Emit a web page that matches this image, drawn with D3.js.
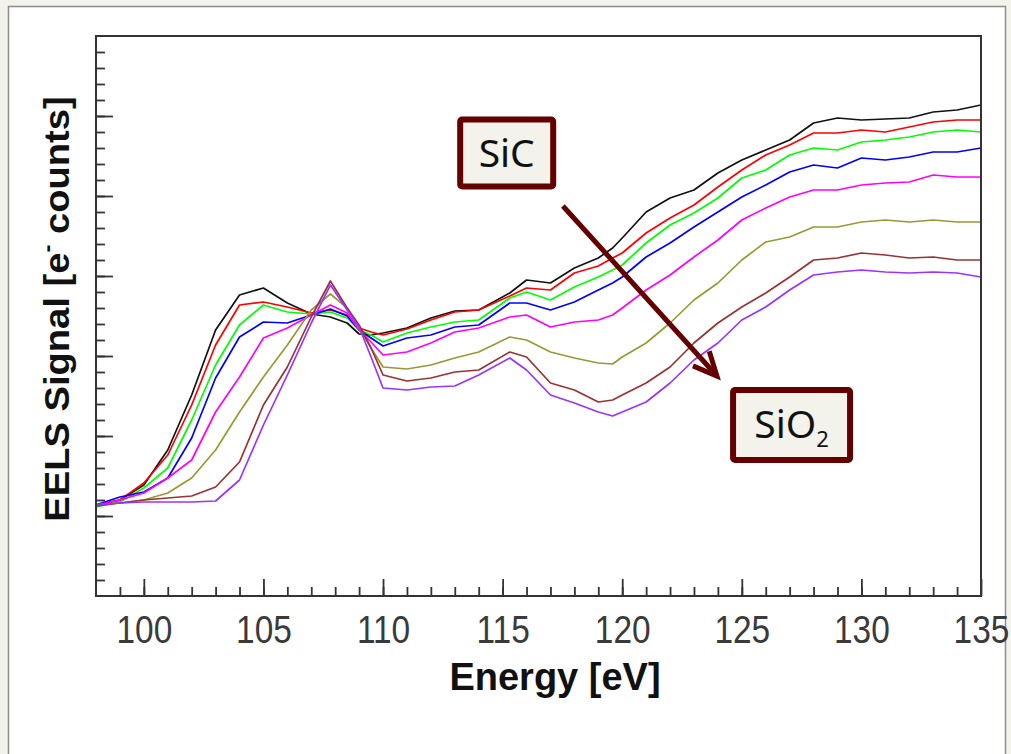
<!DOCTYPE html>
<html>
<head>
<meta charset="utf-8">
<script src="https://cdn.jsdelivr.net/npm/d3@7"></script>
<style>
  html, body { margin: 0; padding: 0; background: #f3f2eb; }
  svg { display: block; }
</style>
</head>
<body>
<div id="chart"></div>
<script>
// energy loss axis [eV]
var energy = [98, 99, 100, 101, 102, 103, 104, 105, 106, 107, 107.8, 108.5, 109, 109.5, 110,
  111, 112, 113, 114, 115.3, 116, 117, 118, 119, 119.6, 120, 121, 122, 123, 124, 125,
  126, 127, 128, 129, 130, 131, 132, 133, 134, 135];

// spectra, going from SiC (spec1) to SiO2 (spec8) - arbitrary counts
var spec1 = [910, 960, 1110, 1460, 2010, 2660, 3010, 3080, 2930, 2820, 2790, 2730, 2620, 2610, 2630,
  2680, 2780, 2850, 2860, 3030, 3160, 3130, 3280, 3380, 3480, 3580, 3840, 3980, 4060, 4230, 4360,
  4460, 4560, 4730, 4780, 4760, 4770, 4780, 4840, 4860, 4910];
var spec2 = [900, 960, 1130, 1410, 1910, 2510, 2910, 2940, 2890, 2830, 2860, 2810, 2680, 2640, 2610,
  2670, 2760, 2840, 2860, 3000, 3080, 3060, 3230, 3300, 3380, 3430, 3630, 3780, 3910, 4090, 4260,
  4410, 4510, 4630, 4630, 4660, 4640, 4690, 4740, 4760, 4760];
var spec3 = [890, 940, 1080, 1280, 1760, 2310, 2710, 2910, 2840, 2820, 2840, 2780, 2660, 2610, 2540,
  2630, 2690, 2740, 2760, 2980, 3040, 2960, 3090, 3190, 3260, 3310, 3530, 3710, 3830, 3980, 4180,
  4260, 4410, 4480, 4460, 4540, 4560, 4590, 4640, 4660, 4640];
var spec4 = [910, 990, 1040, 1180, 1580, 2180, 2590, 2740, 2730, 2810, 2870, 2800, 2660, 2580, 2500,
  2580, 2610, 2690, 2710, 2930, 2930, 2860, 2940, 3060, 3130, 3190, 3390, 3530, 3690, 3840, 3990,
  4110, 4240, 4310, 4280, 4380, 4360, 4390, 4440, 4440, 4480];
var spec5 = [910, 960, 1030, 1180, 1360, 1840, 2190, 2580, 2680, 2810, 2910, 2830, 2660, 2540, 2410,
  2440, 2530, 2640, 2680, 2790, 2810, 2690, 2740, 2760, 2810, 2880, 3060, 3210, 3390, 3560, 3760,
  3880, 3990, 4060, 4060, 4110, 4130, 4140, 4210, 4190, 4190];
var spec6 = [910, 930, 960, 1030, 1180, 1460, 1840, 2190, 2510, 2860, 3020, 2880, 2680, 2480, 2290,
  2270, 2310, 2380, 2440, 2590, 2560, 2440, 2380, 2330, 2320, 2390, 2530, 2730, 2960, 3130, 3360,
  3540, 3590, 3690, 3690, 3740, 3760, 3740, 3760, 3740, 3740];
var spec7 = [900, 930, 960, 980, 1000, 1090, 1340, 1910, 2290, 2790, 3150, 2880, 2710, 2480, 2210,
  2150, 2180, 2240, 2260, 2440, 2390, 2130, 2060, 1940, 1960, 2010, 2130, 2290, 2530, 2730, 2890,
  3030, 3190, 3360, 3380, 3430, 3410, 3380, 3390, 3360, 3360];
var spec8 = [910, 930, 940, 940, 940, 950, 1160, 1710, 2210, 2730, 3110, 2860, 2690, 2390, 2080,
  2060, 2090, 2100, 2210, 2380, 2260, 2010, 1930, 1840, 1800, 1840, 1940, 2130, 2360, 2530, 2760,
  2890, 3060, 3210, 3240, 3260, 3240, 3230, 3240, 3230, 3190];

var spectra = [spec1, spec2, spec3, spec4, spec5, spec6, spec7, spec8];
var specColors = ['#111111', '#ff0000', '#00ff00', '#0000ff', '#ff00ff', '#999933', '#993333', '#9933ff'];

var xTickLabels = [100, 105, 110, 115, 120, 125, 130, 135];
var xLabel = 'Energy [eV]';
var startLabel = 'SiC';
var endLabel = 'SiO';

var W = 1011, H = 754,
    plotL = 96, plotR = 981, plotT = 36, plotB = 596;

var svg = d3.select('#chart').append('svg')
  .attr('width', W)
  .attr('height', H);

// page frame
svg.append('rect').attr('width', W).attr('height', H).attr('fill', '#f3f2eb');
svg.append('rect')
  .attr('x', 8.5).attr('y', 6.5)
  .attr('width', 997).attr('height', 770)
  .attr('fill', '#ffffff')
  .attr('stroke', '#8c8c8c')
  .attr('stroke-width', 1.5);

var x = d3.scaleLinear().domain([98, 135]).range([plotL, plotR]);
var y = d3.scaleLinear().domain([0, 5600]).range([plotB, plotT]);

svg.append('clipPath').attr('id', 'plotClip')
  .append('rect')
  .attr('x', plotL).attr('y', plotT)
  .attr('width', plotR - plotL).attr('height', plotB - plotT);

// curves
var line = d3.line()
  .x(function(d, i) { return x(energy[i]); })
  .y(function(d) { return y(d); });

svg.append('g')
  .attr('clip-path', 'url(#plotClip)')
  .selectAll('path')
  .data(spectra)
  .enter()
  .append('path')
  .attr('d', line)
  .attr('fill', 'none')
  .attr('stroke', function(d, i) { return specColors[i]; })
  .attr('stroke-width', 1.7)
  .attr('stroke-linejoin', 'round');

// axes - ticks point inward, y has no labels
var tickColor = '#333333';

function styleAxis(g) {
  g.select('.domain').remove();
  g.selectAll('.tick line').attr('stroke-width', 1.8);
  g.attr('color', tickColor);
}

svg.append('g')
  .attr('transform', 'translate(' + plotL + ',0)')
  .call(d3.axisLeft(y).tickValues(d3.range(160, 5600, 160)).tickSize(-9).tickFormat(''))
  .call(styleAxis);
svg.append('g')
  .attr('transform', 'translate(' + plotL + ',0)')
  .call(d3.axisLeft(y).tickValues(d3.range(800, 5600, 800)).tickSize(-17).tickFormat(''))
  .call(styleAxis);

svg.append('g')
  .attr('transform', 'translate(0,' + plotB + ')')
  .call(d3.axisBottom(x).tickValues(d3.range(99, 135)).tickSize(-9).tickFormat(''))
  .call(styleAxis);
var xAxis = svg.append('g')
  .attr('transform', 'translate(0,' + plotB + ')')
  .call(d3.axisBottom(x).tickValues(xTickLabels).tickSize(-17).tickPadding(20).tickFormat(d3.format('d')))
  .call(styleAxis);
xAxis.selectAll('.tick text')
  .attr('font-family', '"Liberation Sans", Arial, sans-serif')
  .attr('font-size', 38)
  .attr('transform', 'scale(0.88,1)')
  .attr('fill', '#3a3a3a');

// plot frame
svg.append('rect')
  .attr('x', plotL).attr('y', plotT)
  .attr('width', plotR - plotL).attr('height', plotB - plotT)
  .attr('fill', 'none')
  .attr('stroke', tickColor)
  .attr('stroke-width', 2);

// axis titles
svg.append('text')
  .attr('x', 555).attr('y', 690)
  .attr('text-anchor', 'middle')
  .attr('font-family', '"Liberation Sans", Arial, sans-serif')
  .attr('font-weight', 'bold')
  .attr('font-size', 38)
  .attr('fill', '#111')
  .text(xLabel);

var yTitle = svg.append('text')
  .attr('transform', 'translate(69,309) rotate(-90) scale(1.09,1)')
  .attr('text-anchor', 'middle')
  .attr('font-family', '"Liberation Sans", Arial, sans-serif')
  .attr('font-weight', 'bold')
  .attr('font-size', 35)
  .attr('fill', '#111');
yTitle.append('tspan').text('EELS Signal [e');
yTitle.append('tspan').attr('font-size', 22).attr('dy', -15).text('-');
yTitle.append('tspan').attr('dy', 15).text(' counts]');

// annotation: SiC -> SiO2 arrow
var annoColor = '#650000';

function labelBox(cx, cy, w, h) {
  return svg.append('rect')
    .attr('x', cx - w / 2).attr('y', cy - h / 2)
    .attr('width', w).attr('height', h)
    .attr('rx', 2)
    .attr('fill', '#f3f2eb')
    .attr('stroke', annoColor)
    .attr('stroke-width', 6);
}

var sicPos = [x(115.17), y(4430)],
    sio2Pos = [x(127.08), y(1710)];

labelBox(sicPos[0], sicPos[1], 93, 67);
svg.append('text')
  .attr('x', sicPos[0]).attr('y', sicPos[1] + 14)
  .attr('text-anchor', 'middle')
  .attr('font-family', '"Noto Sans", "Open Sans", sans-serif')
  .attr('font-size', 39)
  .attr('fill', '#111')
  .text(startLabel);

labelBox(sio2Pos[0], sio2Pos[1], 117, 70);
var sio2Text = svg.append('text')
  .attr('x', sio2Pos[0]).attr('y', sio2Pos[1] + 13)
  .attr('text-anchor', 'middle')
  .attr('font-family', '"Noto Sans", "Open Sans", sans-serif')
  .attr('font-size', 39)
  .attr('fill', '#111');
sio2Text.append('tspan').text(endLabel);
sio2Text.append('tspan').attr('font-size', 22).attr('dy', 9).text('2');

var a0 = [x(117.52), y(3900)],
    a1 = [x(123.96), y(2200)],
    ang = Math.atan2(a1[1] - a0[1], a1[0] - a0[0]),
    headLen = 26, headAng = 25 * Math.PI / 180;

svg.append('line')
  .attr('x1', a0[0]).attr('y1', a0[1])
  .attr('x2', a1[0] - 3 * Math.cos(ang)).attr('y2', a1[1] - 3 * Math.sin(ang))
  .attr('stroke', annoColor)
  .attr('stroke-width', 5);

var head = [
  [a1[0] - headLen * Math.cos(ang - headAng), a1[1] - headLen * Math.sin(ang - headAng)],
  a1,
  [a1[0] - headLen * Math.cos(ang + headAng), a1[1] - headLen * Math.sin(ang + headAng)]
];
svg.append('path')
  .attr('d', d3.line()(head))
  .attr('fill', 'none')
  .attr('stroke', annoColor)
  .attr('stroke-width', 5)
  .attr('stroke-linejoin', 'miter');
</script>
</body>
</html>
